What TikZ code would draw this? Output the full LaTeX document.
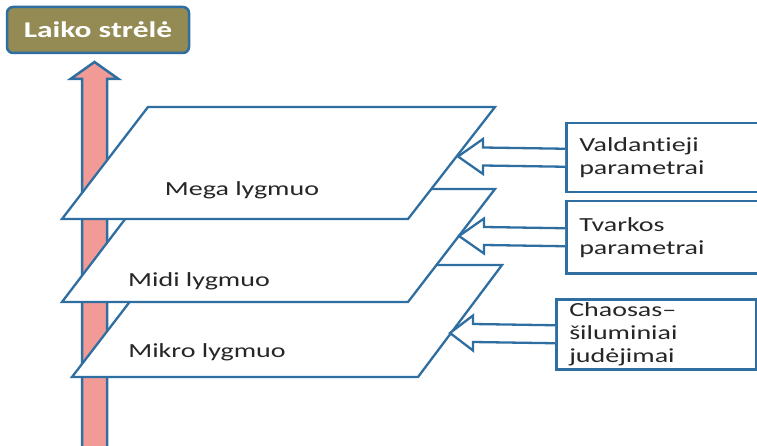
\documentclass[tikz,border=0pt]{standalone}
\usepackage{fontspec}
\setmainfont[FakeStretch=1.4,Ligatures=NoCommon]{Carlito}
\usepackage{tikz}
\usetikzlibrary{calc}

\definecolor{edgeblue}{RGB}{47,110,160}
\definecolor{arrowpink}{RGB}{242,155,150}
\definecolor{olivebox}{RGB}{148,138,84}
\definecolor{txtgray}{RGB}{38,38,38}

\begin{document}
\begin{tikzpicture}[x=1pt,y=-1pt,
  plane/.style={draw=edgeblue,line width=2.3pt,fill=white,line join=miter},
  blockarr/.style={draw=edgeblue,line width=2.3pt,fill=white},
  sidebox/.style={draw=edgeblue,line width=2.5pt,fill=white,anchor=north west,
    text width=200pt,inner xsep=13pt,align=left,text=txtgray,
    font=\fontsize{20}{23}\selectfont},
  lvl/.style={text=txtgray,font=\fontsize{20}{24}\selectfont}]
\useasboundingbox (0,0) rectangle (757,446);

\node[draw=edgeblue,line width=2.5pt,fill=olivebox,rounded corners=6pt,
  minimum width=182pt,minimum height=46pt,text=white,
  font=\fontsize{22.5}{26}\selectfont\bfseries] (title) at (98,30) {Laiko strėlė};

\coordinate (timetip) at (94.5,62);
\draw[draw=edgeblue,line width=2.5pt,fill=arrowpink,line join=miter]
  (timetip) -- ++(24,17) -- ++(-11.5,0) -- ++(0,380) -- ++(-25,0)
  -- ++(0,-380) -- ++(-11.5,0) -- cycle;

\draw[plane] (72,377) -- (158,265) -- (502,265) -- (418,377) -- cycle;
\draw[plane] (62,302) -- (148,189) -- (495,189) -- (408,302) -- cycle;
\draw[plane] (62,219) -- (148,107) -- (495,107) -- (408,219) -- cycle;

\node[lvl] (mega) at (242,190) {Mega lygmuo};
\node[lvl] (midi) at (199,281) {Midi lygmuo};
\node[lvl] (mikro) at (207,352) {Mikro lygmuo};

\node[sidebox,minimum height=69pt] (valdant) at (565,122) {Valdantieji\\parametrai};
\node[sidebox,minimum height=72pt] (tvarkos) at (565,200) {Tvarkos\\parametrai};
\node[sidebox,minimum height=70pt,text width=174pt] (chaos) at (555,298)
  {Chaosas--\\šiluminiai\\judėjimai};

\coordinate (tipA) at (458,156.5);
\coordinate (tipB) at (459,236);
\coordinate (tipC) at (450,333);

\foreach \t/\b/\hl in {tipA/valdant/25,tipB/tvarkos/25,tipC/chaos/23}
  \draw[blockarr] ($(\b.west)+(0,-9)$) -- ($(\t)+(\hl,-9)$) -- ++(0,-8.5)
    -- (\t) -- ++(\hl,17.5) -- ++(0,-8.5) -- ($(\b.west)+(0,9)$);
\end{tikzpicture}
\end{document}
